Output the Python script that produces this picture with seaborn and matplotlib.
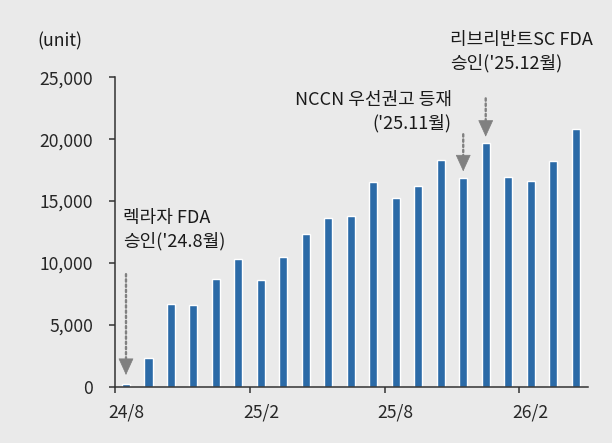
import numpy as np
import seaborn as sns
import matplotlib.pyplot as plt

months = ['24/8', '24/9', '24/10', '24/11', '24/12',
          '25/1', '25/2', '25/3', '25/4', '25/5', '25/6', '25/7',
          '25/8', '25/9', '25/10', '25/11', '25/12',
          '26/1', '26/2', '26/3', '26/4']
units = [200, 2300, 6700, 6600, 8700, 10300, 8600, 10500, 12350, 13650, 13800,
         16550, 15250, 16200, 18300, 16900, 19700, 16950, 16600, 18250, 20850]
label_months = ['24/8', '25/2', '25/8', '26/2']
events = ['렉라자 FDA\n승인(\'24.8월)',
          'NCCN 우선권고 등재\n(\'25.11월)',
          '리브리반트SC FDA\n승인(\'25.12월)']

bg = '#eaeaea'
bar_color = '#2b6aa7'
arrow_color = '#808080'

sns.set_theme(style='ticks', rc={'axes.facecolor': bg, 'figure.facecolor': bg})
plt.rcParams['font.family'] = ['Noto Sans CJK KR', 'DejaVu Sans']
plt.rcParams['text.color'] = '#1a1a1a'
fs = 12.6

fig = plt.figure(figsize=(6.12, 4.43), dpi=100)
ax = fig.add_axes([0.1875, 0.127, 0.7733, 0.6985])

sns.barplot(x=months, y=units, color=bar_color, saturation=1, width=0.36, ax=ax)

ax.set_ylim(0, 25000)
ax.set_xlim(-0.5, 20.55)
ax.set_yticks(np.arange(0, 25001, 5000))
ax.set_yticklabels([f'{v:,}' for v in range(0, 25001, 5000)])

# tick marks sit between months, labels sit under the bars
pos = [months.index(m) for m in label_months]
ax.set_xticks([p - 0.5 for p in pos])
ax.set_xticklabels([''] * len(pos))
ax.set_xticks(pos, minor=True)
ax.set_xticklabels(label_months, minor=True)
ax.tick_params(axis='x', which='major', length=4.5, width=1.1, color='#333333')
ax.tick_params(axis='x', which='minor', length=0, pad=12, labelsize=fs)
ax.tick_params(axis='y', length=4.5, width=1.1, pad=11, labelsize=fs, color='#333333')

sns.despine(ax=ax)
for s in ['left', 'bottom']:
    ax.spines[s].set_linewidth(1.1)
    ax.spines[s].set_color('#333333')
ax.set_xlabel('')
ax.set_ylabel('')

fig.text(37 / 612, 1 - 41 / 443, '(unit)', fontsize=fs, va='center', ha='left')

# event arrows: dotted shaft + solid head
def event_arrow(i, tip, tail):
    ax.annotate('', xy=(i, tip + 1000), xytext=(i, tail),
                arrowprops=dict(arrowstyle='-', color=arrow_color, lw=1.7,
                                linestyle=(0, (1, 1.2)), shrinkA=0, shrinkB=0))
    ax.annotate('', xy=(i, tip), xytext=(i, tip + 1250),
                arrowprops=dict(arrowstyle='-|>,head_length=0.55,head_width=0.25',
                                color=arrow_color, lw=0.5, shrinkA=0, shrinkB=0,
                                mutation_scale=20))

event_arrow(0, units[0] + 750, 9100)
event_arrow(15, units[15] + 500, units[15] + 3500)
event_arrow(16, units[16] + 500, units[16] + 3600)

ax.text(-0.13, 12700, events[0], fontsize=13, ha='left', va='center', linespacing=1.35)
ax.text(14.49, 22200, events[1], fontsize=13, ha='right', va='center', linespacing=1.35,
        multialignment='right')
ax.text(14.4, 27100, events[2], fontsize=13, ha='left', va='center', linespacing=1.35)

fig.savefig('out.png', dpi=100, facecolor=bg)
